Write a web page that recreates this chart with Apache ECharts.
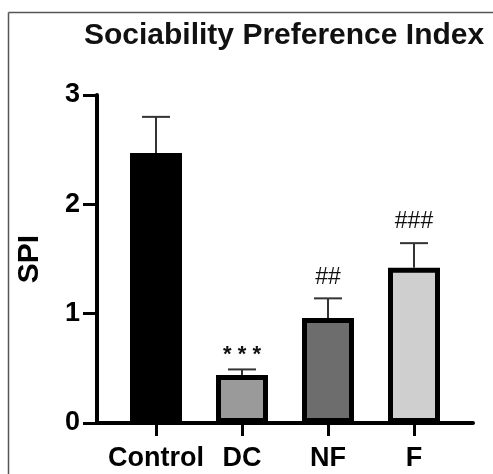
<!DOCTYPE html>
<html><head><meta charset="utf-8">
<script src="https://cdn.jsdelivr.net/npm/echarts@6/dist/echarts.min.js"></script>
<style>html,body{margin:0;padding:0;background:#fff}#c{width:493px;height:474px}</style>
</head><body><div id="c"></div>
<script>
const categories = ['Control', 'DC', 'NF', 'F'];
const means = [2.47, 0.44, 0.96, 1.42];
const sems = [0.33, 0.05, 0.18, 0.225];
const annotations = ['', '***', '##', '###'];
const barColors = ['#000000', '#9a9a9a', '#6d6d6d', '#cfcfcf'];
const yTicks = [0, 1, 2, 3];

const FONT = '"Liberation Sans", Arial, sans-serif';
const chart = echarts.init(document.getElementById('c'), null, {renderer: 'canvas'});

const barData = means.map((v, i) => ({
  value: v,
  itemStyle: {color: barColors[i], borderColor: '#000', borderWidth: 5}
}));
const errData = means.map((v, i) => [i, v, v + sems[i], annotations[i]]);

chart.setOption({
  animation: false,
  backgroundColor: '#fff',
  title: {
    text: 'Sociability Preference Index',
    left: 79, top: 16,
    textStyle: {fontFamily: FONT, fontWeight: 'bold', fontSize: 30, color: '#111'}
  },
  graphic: [
    {type: 'line', shape: {x1: 8.5, y1: 12.5, x2: 8.5, y2: 474}, style: {stroke: '#555', lineWidth: 1.5}},
    {type: 'line', shape: {x1: 8.5, y1: 12.5, x2: 493, y2: 12.5}, style: {stroke: '#555', lineWidth: 1.5}}
  ],
  grid: [
    {left: 97, right: 20, top: 95, bottom: 51},
    {left: 113, right: 36, top: 95, bottom: 51}
  ],
  xAxis: [
    {gridIndex: 0, type: 'value', min: 0, max: 1,
     axisLine: {show: true, lineStyle: {color: '#000', width: 4}},
     axisTick: {show: false}, axisLabel: {show: false}, splitLine: {show: false}},
    {gridIndex: 1, type: 'category', data: categories,
     axisLine: {show: false},
     axisTick: {show: true, alignWithLabel: true, interval: 0, length: 13, lineStyle: {color: '#000', width: 3}},
     axisLabel: {interval: 0, margin: 22, fontFamily: FONT, fontWeight: 'bold', fontSize: 27, color: '#000'}}
  ],
  yAxis: [
    {gridIndex: 0, type: 'value', min: 0, max: 3, interval: 1,
     name: 'SPI', nameLocation: 'middle', nameGap: 52, nameRotate: 90,
     nameTextStyle: {fontFamily: FONT, fontWeight: 'bold', fontSize: 30, color: '#000'},
     axisLine: {show: true, lineStyle: {color: '#000', width: 4}},
     axisTick: {show: true, length: 14, lineStyle: {color: '#000', width: 3}},
     axisLabel: {margin: 17, fontFamily: FONT, fontWeight: 'bold', fontSize: 27, color: '#000',
       formatter: v => yTicks.includes(v) ? String(v) : ''},
     splitLine: {show: false}},
    {gridIndex: 1, type: 'value', min: 0, max: 3, interval: 1, show: false}
  ],
  series: [
    {type: 'bar', xAxisIndex: 1, yAxisIndex: 1, data: barData, barWidth: 52, z: 2},
    {type: 'custom', xAxisIndex: 1, yAxisIndex: 1, data: errData, z: 3,
     renderItem: function (params, api) {
       const base = api.coord([api.value(0), api.value(1)]);
       const top = api.coord([api.value(0), api.value(2)]);
       const label = annotations[params.dataIndex];
       const capHalf = 14;
       const children = [
         {type: 'line', shape: {x1: base[0], y1: base[1], x2: top[0], y2: top[1]}, style: {stroke: '#333', lineWidth: 2}},
         {type: 'line', shape: {x1: top[0] - capHalf, y1: top[1], x2: top[0] + capHalf, y2: top[1]}, style: {stroke: '#333', lineWidth: 2}}
       ];
       if (label) {
         const isStar = label[0] === '*';
         children.push({type: 'text', style: {
           text: isStar ? '* * *' : label,
           x: top[0], y: top[1] - (isStar ? 14 : 21),
           align: 'center', verticalAlign: 'middle',
           font: (isStar ? 'bold 22px ' : '23px ') + FONT, fill: '#111'
         }});
       }
       return {type: 'group', children: children};
     }}
  ]
});
</script></body></html>
